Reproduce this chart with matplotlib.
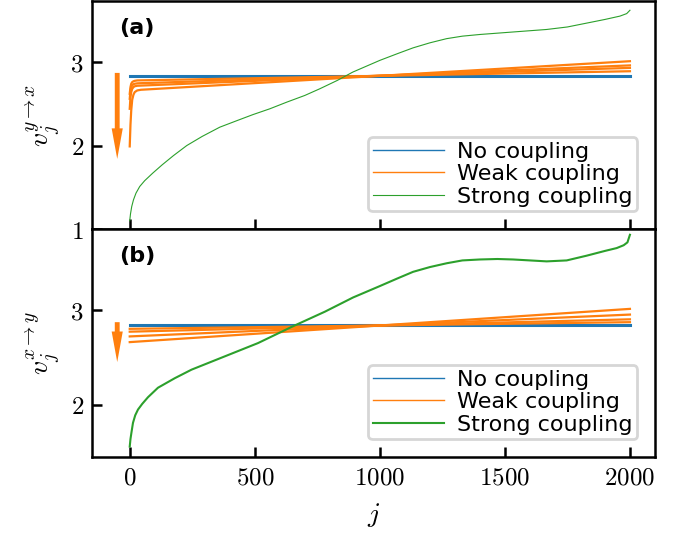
import matplotlib
matplotlib.use("Agg")
import matplotlib.pyplot as plt
from matplotlib.lines import Line2D
from matplotlib.ticker import FuncFormatter

plt.rcParams['mathtext.fontset'] = 'cm'

# iteration index and values
j_flat = [0, 2000]
no_coupling = [2.835, 2.835]

# panel (a): weak coupling curves (four initial conditions)
j_weak_a = [0, 3, 6, 10, 15, 20, 30, 45, 2000]
weak_a = [
    [2.62, 2.70, 2.74, 2.76, 2.770, 2.775, 2.780, 2.781, 2.89],
    [2.56, 2.66, 2.70, 2.72, 2.735, 2.740, 2.745, 2.747, 2.93],
    [2.44, 2.58, 2.64, 2.68, 2.700, 2.710, 2.716, 2.718, 2.96],
    [1.99, 2.25, 2.42, 2.55, 2.610, 2.640, 2.660, 2.668, 3.01],
]
j_strong_a = [0, 3, 8, 15, 25, 40, 60, 92, 130, 175, 228, 290, 360, 430, 492,
              560, 628, 700, 760, 830, 892, 1000, 1070, 1133, 1200, 1267, 1330,
              1400, 1533, 1667, 1750, 1800, 1900, 1960, 1987, 2000]
strong_a = [1.10, 1.18, 1.27, 1.35, 1.43, 1.51, 1.58, 1.67, 1.77, 1.88, 2.00,
            2.11, 2.22, 2.30, 2.37, 2.44, 2.52, 2.60, 2.68, 2.78, 2.88, 3.02,
            3.10, 3.17, 3.23, 3.28, 3.31, 3.33, 3.36, 3.39, 3.42, 3.45, 3.51,
            3.55, 3.58, 3.62]

# panel (b)
j_weak_b = [0, 2000]
weak_b = [
    [2.80, 2.87],
    [2.77, 2.90],
    [2.72, 2.95],
    [2.66, 3.01],
]
j_strong_b = [0, 3, 7, 13, 22, 33, 50, 73, 113, 180, 247, 380, 513, 647, 780,
              893, 1000, 1070, 1133, 1200, 1267, 1330, 1400, 1470, 1533, 1600,
              1667, 1747, 1827, 1900, 1947, 1975, 1990, 2000]
strong_b = [1.56, 1.64, 1.71, 1.81, 1.89, 1.95, 2.01, 2.08, 2.18, 2.28, 2.37,
            2.51, 2.65, 2.82, 2.98, 3.13, 3.25, 3.33, 3.40, 3.45, 3.49, 3.52,
            3.53, 3.535, 3.53, 3.52, 3.51, 3.52, 3.57, 3.62, 3.65, 3.68, 3.71,
            3.79]

arrow_a = (-50, 2.87, 1.84)
arrow_b = (-50, 2.87, 2.45)

fig, (ax1, ax2) = plt.subplots(2, 1, figsize=(6.78, 5.39), dpi=100, sharex=True)
fig.subplots_adjust(left=0.136, right=0.966, top=0.998, bottom=0.152, hspace=0)

panels = [
    (ax1, weak_a, j_weak_a, j_strong_a, strong_a, 0.8, arrow_a, (1.0, 3.73),
     r'$v_j^{y\to x}$', '(a)', [1, 2, 3]),
    (ax2, weak_b, j_weak_b, j_strong_b, strong_b, 1.5, arrow_b, (1.45, 3.85),
     r'$v_j^{x\to y}$', '(b)', [2, 3]),
]

for ax, weak, jw, js, strong, glw, arr, ylim, ylab, tag, yt in panels:
    ax.plot(j_flat, no_coupling, color='C0', lw=2.2)
    for w in weak:
        ax.plot(jw, w, color='C1', lw=1.6)
    ax.plot(js, strong, color='C2', lw=glw)
    x, y0, y1 = arr
    ax.annotate('', xy=(x, y1), xytext=(x, y0),
                arrowprops=dict(arrowstyle='simple,head_width=0.8,head_length=2.2,tail_width=0.35',
                                color='C1', lw=0, mutation_scale=10,
                                shrinkA=0, shrinkB=0))
    ax.set_xlim(-150, 2100)
    ax.set_ylim(*ylim)
    ax.set_yticks(yt)
    ax.set_xticks([0, 500, 1000, 1500, 2000])
    ax.set_ylabel(ylab, fontsize=20, labelpad=6)
    ax.text(0.048, 0.88, tag, transform=ax.transAxes, fontsize=16,
            fontweight='bold', va='center', ha='left')
    ax.tick_params(direction='in', length=7, width=1.8, labelsize=18, pad=6)
    for s in ax.spines.values():
        s.set_linewidth(1.8)
    ax.yaxis.set_major_formatter(FuncFormatter(lambda v, p: f'${v:g}$'))
    ax.xaxis.set_major_formatter(FuncFormatter(lambda v, p: f'${v:g}$'))
    handles = [Line2D([], [], color='C0', lw=1.0),
               Line2D([], [], color='C1', lw=1.0),
               Line2D([], [], color='C2', lw=glw)]
    leg = ax.legend(handles, ['No coupling', 'Weak coupling', 'Strong coupling'],
                    loc='lower right', fontsize=16, handlelength=3.2,
                    handletextpad=0.6, labelspacing=0.12, borderpad=0.2,
                    borderaxespad=0.8, fancybox=True, framealpha=0.8)
    leg.get_frame().set_linewidth(2.0)

ax1.tick_params(labelbottom=False)
ax2.set_xlabel(r'$j$', fontsize=20, labelpad=8)

fig.savefig('out.png', dpi=100)
